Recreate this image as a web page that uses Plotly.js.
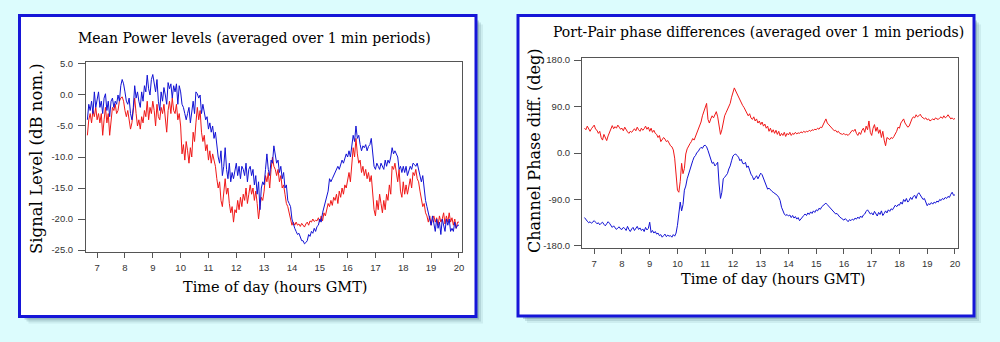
<!DOCTYPE html>
<html><head><meta charset="utf-8">
<script src="https://cdn.plot.ly/plotly-3.0.1.min.js"></script>
<style>html,body{margin:0;padding:0;background:#dcfcfd;} #chart{width:1000px;height:342px;}</style>
</head><body><div id="chart"></div>
<script>
// Sampling grid (hours GMT): one reading every 0.05 h starting at 6.65 h
const startHour = 6.65, stepHour = 0.05;

// ---- Left panel: Mean Power levels (dB nom.) ----
const powerBlue = [
 -4, -1.5, -2.5, -1, -3, 0.5, -2,
 -0.5, 0.5, -2, -1, -3, -0.5, 0.2, -2.5, -1, -3.5, -1, -0.5, -2, -1, -1.5, 0, -1, 1.5, 2.5, 1.8,
 0.5, -1, -1.5, -0.5, -3, -4, -2, 1.5, -0.5, 0.5, -1, -2, 0.5, -1, 1.5, 0.5, 3.2, 1, 0, 2.5,
 3.3, 1.5, 0.5, 2.5, -1, -2.5, 0.5, -1, 1.2, 0, -1.5, 2, 1, 1.8, -0.5, 1.5, 0.5, 1.8, -1.5, 1.5,
 0.5, -1.5, -2, -3, -4, -3, -2, -4.5, -2.5, -1, -3, 0.5, 0.2, -0.5, 0, -3, -1.5, -2.5, -4, -3.5,
 -5.5, -4.5, -6, -5, -7, -6, -8.5, -10, -11, -9, -13, -11.5, -8.5, -12, -13.5, -11, -14, -12.5, -13.5, -12,
 -11, -13, -11.5, -13.5, -11.5, -12, -13, -11, -14, -12, -11.5, -13, -12, -14.5, -13, -16, -14, -18.5, -15, -14,
 -14.5, -12, -9.5, -12, -13, -10.5, -11, -8.2, -9.5, -11, -10.5, -12.5, -11.5, -13.5, -12.5, -15, -14.5, -17, -17.5, -18,
 -20, -21, -21.5, -22, -22.5, -22.3, -23, -23.5, -23.5, -24, -23.8, -23.5, -22.5, -22.8, -22, -22.3, -21.5, -22, -21.2, -21,
 -20, -20.5, -19, -18, -17, -16, -15.5, -13.5, -14, -13.5, -13, -12.5, -12, -11.5, -12, -11, -10.5, -11, -10, -9.5,
 -10, -9, -10, -8, -6.5, -7.5, -5, -7, -6.5, -8, -9, -8.2, -8.5, -8, -9, -8.3, -8, -7, -9, -11.5,
 -12, -11, -11.5, -12, -11, -11.5, -12, -10.5, -11.5, -10.5, -11, -10, -8.5, -9.5, -9, -9.5, -10, -12, -11.5, -12.5,
 -11.5, -12.5, -11.5, -13, -12, -11.5, -12, -11, -11.2, -11.5, -11, -12, -12.5, -14, -13, -15.5, -17, -18, -19, -20,
 -21, -19.5, -20.5, -22, -20, -21.5, -20.5, -22.5, -20, -21, -22, -20, -21, -20, -22, -21.5, -22, -20.5, -21.5, -21,
 -21
];
const powerRed = [
 -6.5, -4, -3, -4.5, -2.5, -3.5, -2,
 -4, -3, -4.5, -3, -6.5, -4, -2, -4.5, -3, -6.5, -4.5, -2, -2.5, -1.5, -3, -2.5, -1, -0.5, -0.3, -1,
 -2.5, -3.5, -2.5, -4.5, -5.5, -4.5, -2, -0.5, -3, -5, -4, -5.5, -3.5, -4.5, -2.5, -3.5, -1, -4, -2, -3,
 -1, -2.5, -5, -1.5, -3.5, -4, -2, -3, -1.5, -4, -6, -2.5, -1, -3, -0.5, -2.5, -3, -1.5, -4, -3,
 -5, -9.5, -8, -10.5, -7.5, -9, -11, -8.5, -10, -6, -7.5, -4.5, -2, -4, -2.5, -6, -7.5, -6.5, -9, -8,
 -10.5, -9, -11, -9.5, -10.5, -11.5, -13.5, -15, -14, -17, -18, -16, -13.5, -16, -15, -17.5, -19, -18, -20.5, -18.5,
 -19, -17, -18.5, -16.5, -18, -16, -17, -15, -17.5, -16, -14.5, -16, -15, -17, -15.5, -17.5, -20, -18, -16.5, -17,
 -15.5, -13, -14, -12.5, -15, -12, -10, -11.5, -12, -13, -12, -14, -13, -15, -14.5, -16, -17.5, -18, -19, -20,
 -21, -20.5, -21, -20.5, -21, -20.8, -21.2, -20.7, -21, -21.3, -20.8, -20.5, -21, -20.3, -20.5, -20, -20.4, -20.2, -20.3, -19.8,
 -20.5, -19.5, -20.3, -19, -19.5, -18.5, -17.5, -18, -17, -17.8, -16.5, -17, -16, -17.5, -15.5, -16.5, -15, -16, -14.5, -15,
 -13.5, -12.5, -14, -11.5, -8.5, -10, -7, -9.5, -11, -10.5, -12.5, -11.5, -13, -12, -13.5, -12.5, -14, -13, -16, -18.5,
 -19.5, -17, -18.5, -16, -17.5, -19, -17, -18.5, -16, -17, -14.5, -16, -11.5, -12, -11, -12.5, -14, -12, -15.5, -16.5,
 -14, -16, -14.5, -16, -14.5, -13.5, -15, -12.5, -13, -12, -13.5, -14, -15.5, -17, -18, -17.5, -19, -19.5, -20.5, -19.5,
 -21, -20, -19.5, -20.5, -19.8, -21, -19.5, -20.5, -20, -19, -20.8, -19.5, -20.5, -19, -20.5, -19.8, -21, -20, -21.5, -20.5,
 -20.5
];

// ---- Right panel: Port-Pair phase differences (deg) ----
const phaseRed = [
 48, 45, 52, 46, 42, 47, 50,
 54, 46, 44, 38, 42, 30, 25, 36, 28, 24, 33, 40, 50, 53, 47, 51, 48, 54, 50, 46,
 48, 43, 50, 44, 41, 38, 42, 40, 44, 47, 43, 50, 45, 42, 48, 44, 47, 52, 46, 50,
 42, 48, 40, 44, 38, 36, 30, 34, 22, 26, 30, 27, 22, 24, 18, 14, 12, 6, -10, -45,
 -72, -76, -55, -20, -40, -30, -2, 8, 14, 18, 22, 28, 25, 32, 40, 45, 52, 60, 72, 80,
 92, 96, 65, 58, 66, 72, 68, 75, 80, 70, 52, 36, 45, 60, 72, 78, 84, 92, 96, 108,
 115, 126, 120, 114, 108, 102, 98, 92, 88, 82, 78, 72, 76, 68, 65, 70, 62, 66, 58, 62,
 55, 60, 52, 56, 48, 52, 42, 48, 40, 45, 38, 44, 36, 42, 33, 38, 34, 40, 32, 38,
 35, 40, 34, 38, 36, 40, 37, 39, 38, 41, 39, 42, 40, 42, 41, 44, 42, 45, 44, 46,
 45, 48, 46, 50, 49, 55, 60, 66, 58, 55, 52, 48, 46, 43, 44, 40, 42, 38, 37, 36,
 38, 35, 36, 34, 37, 40, 44, 42, 46, 38, 34, 40, 36, 44, 48, 40, 52, 45, 62, 40,
 34, 48, 55, 42, 50, 38, 45, 30, 42, 25, 14, 30, 28, 26, 30, 28, 32, 36, 42, 50,
 48, 58, 62, 66, 58, 54, 50, 52, 60, 66, 70, 68, 74, 70, 72, 75, 70, 68, 66, 68,
 64, 66, 62, 64, 66, 64, 68, 66, 65, 68, 70, 67, 72, 68, 70, 74, 69, 66, 68, 65,
 67
];
const phaseBlue = [
 -125, -130, -132, -135, -133, -136, -134,
 -131, -134, -137, -135, -139, -136, -134, -138, -141, -137, -133, -136, -140, -144, -141, -146, -148, -145, -143, -147,
 -148, -144, -146, -150, -142, -148, -152, -147, -144, -150, -146, -142, -148, -145, -150, -147, -152, -144, -149, -146,
 -134, -154, -150, -155, -152, -157, -155, -160, -158, -163, -160, -157, -162, -159, -161, -160, -163, -158, -161, -155,
 -140, -115, -95, -112, -100, -72, -64, -50, -40, -31, -25, -15, -8, -5, 1, 3, 8, 11, 9, 14,
 15, 12, 5, -5, -12, -20, -18, -25, -22, -18, -60, -88, -76, -50, -47, -44, -40, -31, -25, -15,
 -6, -3, -2, -5, -8, -15, -12, -20, -21, -18, -28, -25, -35, -41, -45, -52, -48, -44, -50, -43,
 -39, -42, -50, -55, -62, -70, -68, -72, -74, -76, -78, -80, -82, -86, -92, -105, -112, -118, -121, -119,
 -122, -120, -125, -121, -126, -123, -128, -125, -131, -127, -124, -121, -118, -121, -116, -119, -114, -117, -112, -115,
 -110, -112, -107, -109, -104, -102, -99, -97, -100, -103, -105, -108, -112, -115, -118, -117, -121, -124, -126, -128,
 -130, -127, -131, -133, -129, -131, -128, -130, -126, -128, -124, -127, -122, -125, -120, -118, -113, -110, -114, -118,
 -116, -120, -113, -117, -122, -115, -119, -112, -121, -117, -112, -116, -110, -113, -108, -110, -106, -101, -104, -100,
 -101, -95, -99, -90, -94, -88, -95, -92, -86, -90, -84, -82, -88, -80, -77, -82, -86, -90, -88, -94,
 -102, -98, -100, -96, -99, -95, -97, -93, -95, -90, -92, -88, -90, -86, -88, -84, -86, -80, -76, -82,
 -81
];

// Tick labels
const hourTicks = [7, 8, 9, 10, 11, 12, 13, 14, 15, 16, 17, 18, 19, 20];
const powerTickVals = [-25, -20, -15, -10, -5, 0, 5];
const powerTickText = ["-25.0", "-20.0", "-15.0", "-10.0", "-5.0", "0.0", "5.0"];
const phaseTickVals = [-180, -90, 0, 90, 180];
const phaseTickText = ["-180.0", "-90.0", "0.0", "90.0", "180.0"];

function hoursFor(arr) { return arr.map((_, i) => +(startHour + i * stepHour).toFixed(2)); }

const RED = '#f01818', BLUE = '#1212d4';
const traces = [
  {x: hoursFor(powerRed), y: powerRed, xaxis: 'x', yaxis: 'y', mode: 'lines', line: {color: RED, width: 1}, hoverinfo: 'skip'},
  {x: hoursFor(powerBlue), y: powerBlue, xaxis: 'x', yaxis: 'y', mode: 'lines', line: {color: BLUE, width: 1}, hoverinfo: 'skip'},
  {x: hoursFor(phaseRed), y: phaseRed, xaxis: 'x2', yaxis: 'y2', mode: 'lines', line: {color: RED, width: 1}, hoverinfo: 'skip'},
  {x: hoursFor(phaseBlue), y: phaseBlue, xaxis: 'x2', yaxis: 'y2', mode: 'lines', line: {color: BLUE, width: 1}, hoverinfo: 'skip'}
];

const W = 1000, H = 342;
const px = v => v / W, py = v => 1 - v / H;
const tickFont = {family: 'Liberation Sans, Arial, sans-serif', size: 9.5, color: '#333'};
const axBase = {showgrid: false, zeroline: false, showline: true, mirror: true, linecolor: '#555', linewidth: 1,
  ticks: 'outside', tickcolor: '#555', tickwidth: 1, tickfont: tickFont, fixedrange: true};

function frame(x0, y0, x1, y1) {
  const s = [];
  [[7, 'rgba(70,110,120,0.10)'], [5, 'rgba(70,110,120,0.18)'], [3, 'rgba(70,110,120,0.28)']].forEach(([o, c]) => {
    s.push({type: 'rect', xref: 'paper', yref: 'paper', x0: px(x0 + o + 2), x1: px(x1 + o), y0: py(y1 + o), y1: py(y0 + o + 2),
      fillcolor: c, line: {width: 0}, layer: 'below'});
  });
  s.push({type: 'rect', xref: 'paper', yref: 'paper', x0: px(x0), x1: px(x1), y0: py(y1), y1: py(y0),
    fillcolor: '#ffffff', line: {color: '#1616d8', width: 3}, layer: 'below'});
  return s;
}

const serif = 'DejaVu Serif, Liberation Serif, serif';
function ann(text, x, y, size, angle) {
  return {text: text, xref: 'paper', yref: 'paper', x: px(x), y: py(y), xanchor: 'center', yanchor: 'middle',
    showarrow: false, textangle: angle || 0, font: {family: serif, size: size, color: '#000'}};
}

const layout = {
  width: W, height: H, margin: {l: 0, r: 0, t: 0, b: 0},
  paper_bgcolor: '#dcfcfd', plot_bgcolor: '#ffffff', showlegend: false,
  xaxis: Object.assign({}, axBase, {domain: [px(86), px(462)], range: [6.6, 20.11], anchor: 'y',
    tickvals: hourTicks, ticklen: 5, ticklabelstandoff: 2}),
  yaxis: Object.assign({}, axBase, {domain: [py(252), py(62)], range: [-25.32, 5.32], anchor: 'x',
    tickvals: powerTickVals, ticktext: powerTickText, ticklen: 7, ticklabelstandoff: 3}),
  xaxis2: Object.assign({}, axBase, {domain: [px(582), px(958)], range: [6.56, 20.11], anchor: 'y2',
    tickvals: hourTicks, ticklen: 5, ticklabelstandoff: 2}),
  yaxis2: Object.assign({}, axBase, {domain: [py(248), py(58)], range: [-183.9, 183.9], anchor: 'x2',
    tickvals: phaseTickVals, ticktext: phaseTickText, ticklen: 7, ticklabelstandoff: 2}),
  shapes: [].concat(frame(19.5, 15.5, 476, 316.5), frame(518, 15.5, 974, 316)),
  annotations: [
    ann('Mean Power levels (averaged over 1 min periods)', 254, 38, 14),
    ann('Time of day (hours GMT)', 275, 287, 14.5),
    ann('Signal Level (dB nom.)', 36, 159, 16.5, -90),
    ann('Port-Pair phase differences (averaged over 1 min periods)', 758, 32, 14),
    ann('Time of day (hours GMT)', 773, 279, 14.5),
    ann('Channel Phase diff. (deg)', 534, 151, 16, -90)
  ]
};

Plotly.newPlot('chart', traces, layout, {displayModeBar: false, staticPlot: true});
</script>
</body></html>
